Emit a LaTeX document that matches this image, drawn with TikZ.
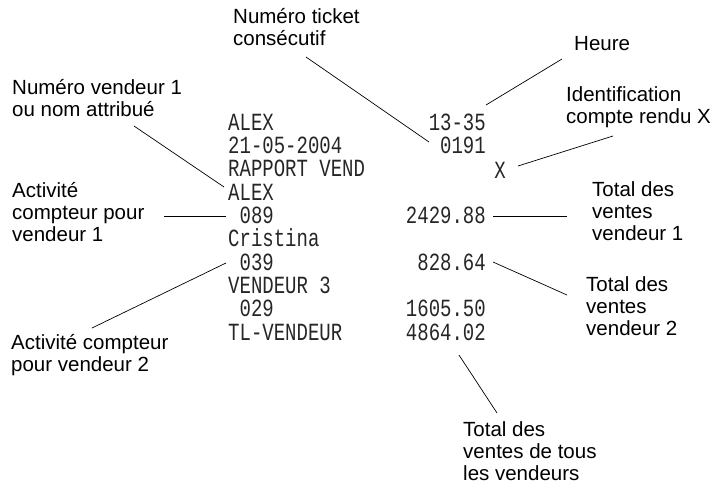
\documentclass[tikz,border=0pt]{standalone}
\usepackage{fontspec}
\setmainfont{Liberation Sans}
\newfontfamily\rcpt{Liberation Mono}
\begin{document}
\begin{tikzpicture}[x=1pt,y=-1pt,
  lbl/.style={anchor=north west,inner sep=0pt,align=left,font=\fontsize{20.5}{22}\selectfont},
  rc/.style={inner sep=0pt,font=\rcpt\fontsize{19}{20}\selectfont,yscale=1.3,transform shape,text=black!85},
  rl/.style={rc,anchor=west},
  rr/.style={rc,anchor=east},
  ln/.style={line width=0.7pt}]
\useasboundingbox (0,0) rectangle (720,490);
% receipt
\node[rl] (r1) at (228,122) {ALEX};
\node[rl] (r2) at (228,145) {21-05-2004};
\node[rl] (r3) at (228,168) {RAPPORT VEND};
\node[rl] (r4) at (228,192) {ALEX};
\node[rl] (r5) at (228,215) {\ 089};
\node[rl] (r6) at (228,238) {Cristina};
\node[rl] (r7) at (228,262) {\ 039};
\node[rl] (r8) at (228,285) {VENDEUR 3};
\node[rl] (r9) at (228,308) {\ 029};
\node[rl] (r10) at (228,332) {TL-VENDEUR};
\node[rr] (h) at (486,122) {13-35};
\node[rr] (t) at (486,145) {0191};
\node[rr] (x) at (506,170) {X};
\node[rr] (v1) at (486,215) {2429.88};
\node[rr] (v2) at (486,262) {828.64};
\node[rr] (v3) at (486,308) {1605.50};
\node[rr] (v4) at (486,332) {4864.02};
% labels
\node[lbl] (lt) at (233,8) {Numéro ticket\\consécutif};
\node[lbl] (lh) at (574,36) {Heure};
\node[lbl] (li) at (566,86) {Identification\\compte rendu X};
\node[lbl] (ln1) at (12,79) {Numéro vendeur 1\\ou nom attribué};
\node[lbl] (la1) at (12,182) {Activité\\compteur pour\\vendeur 1};
\node[lbl] (la2) at (11,334) {Activité compteur\\pour vendeur 2};
\node[lbl] (lv1) at (592,181) {Total des\\ventes\\vendeur 1};
\node[lbl] (lv2) at (586,276) {Total des\\ventes\\vendeur 2};
\node[lbl] (lall) at (463,421) {Total des\\ventes de tous\\les vendeurs};
% connectors
\coordinate (a1) at (306,57); \coordinate (a2) at (429,142);
\draw[ln] (a1) -- (a2);
\coordinate (b1) at (562,59); \coordinate (b2) at (486,105);
\draw[ln] (b1) -- (b2);
\coordinate (c1) at (613,136); \coordinate (c2) at (518,166);
\draw[ln] (c1) -- (c2);
\coordinate (d1) at (134,126); \coordinate (d2) at (224,187);
\draw[ln] (d1) -- (d2);
\coordinate (e1) at (164,216); \coordinate (e2) at (226,216);
\draw[ln] (e1) -- (e2);
\coordinate (f1) at (92,328); \coordinate (f2) at (226,263);
\draw[ln] (f1) -- (f2);
\coordinate (g1) at (493,216); \coordinate (g2) at (567,216);
\draw[ln] (g1) -- (g2);
\coordinate (k1) at (493,262); \coordinate (k2) at (567,295);
\draw[ln] (k1) -- (k2);
\coordinate (m1) at (459,355); \coordinate (m2) at (497,413);
\draw[ln] (m1) -- (m2);
\end{tikzpicture}
\end{document}
